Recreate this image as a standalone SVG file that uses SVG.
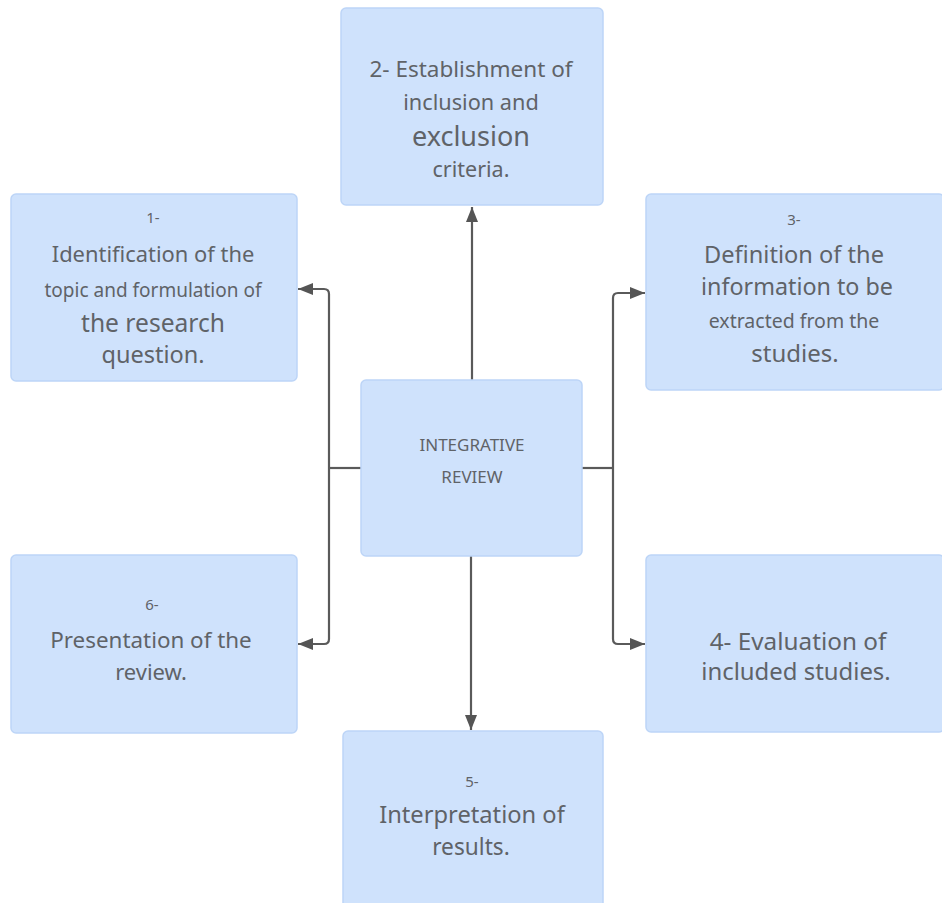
<svg xmlns="http://www.w3.org/2000/svg" width="942" height="903" viewBox="0 0 942 903">
  <style>
    .box { fill: #cfe2fc; stroke: #bdd5f7; stroke-width: 1.5; }
    .t { font-family: "Noto Sans", "Open Sans", sans-serif; fill: #5f6368; text-anchor: middle; }
    .conn { fill: none; stroke: #5a5a5a; stroke-width: 2.2; }
  </style>
  <defs>
    <marker id="arrow" markerUnits="userSpaceOnUse" markerWidth="16" markerHeight="12" refX="15" refY="6" orient="auto">
      <path d="M0,0 L15,6 L0,12 Z" fill="#555555"/>
    </marker>
  </defs>
  <rect width="942" height="903" fill="#ffffff"/>

  <!-- connectors -->
  <g id="connectors">
    <path class="conn" d="M472,380 V207" marker-end="url(#arrow)"/>
    <path class="conn" d="M471,556 V730" marker-end="url(#arrow)"/>
    <path class="conn" d="M361,468 H329"/>
    <path class="conn" d="M329,468 V294 Q329,289 324,289 H298" marker-end="url(#arrow)"/>
    <path class="conn" d="M329,468 V639 Q329,644 324,644 H298" marker-end="url(#arrow)"/>
    <path class="conn" d="M582,468 H613"/>
    <path class="conn" d="M613,468 V298 Q613,293 618,293 H645" marker-end="url(#arrow)"/>
    <path class="conn" d="M613,468 V639 Q613,644 618,644 H645" marker-end="url(#arrow)"/>
  </g>

  <!-- centre node -->
  <g id="node-center">
    <rect class="box" x="361" y="380" width="221" height="176" rx="5"/>
    <text class="t" x="472" y="451" font-size="17">INTEGRATIVE</text>
    <text class="t" x="472" y="483" font-size="17">REVIEW</text>
  </g>

  <!-- step 1 -->
  <g id="node-1">
    <rect class="box" x="11" y="194" width="286" height="187" rx="5"/>
    <text class="t" x="153" y="223" font-size="15">1-</text>
    <text class="t" x="153" y="262" font-size="21.9">Identification of the</text>
    <text class="t" x="153" y="297" font-size="19">topic and formulation of</text>
    <text class="t" x="153" y="332" font-size="24.6">the research</text>
    <text class="t" x="153" y="363" font-size="23.5">question.</text>
  </g>

  <!-- step 2 -->
  <g id="node-2">
    <rect class="box" x="341" y="8" width="262" height="197" rx="5"/>
    <text class="t" x="471" y="77" font-size="22.5">2- Establishment of</text>
    <text class="t" x="471" y="110" font-size="21.7">inclusion and</text>
    <text class="t" x="471" y="146" font-size="27">exclusion</text>
    <text class="t" x="471" y="177" font-size="21.5">criteria.</text>
  </g>

  <!-- step 3 -->
  <g id="node-3">
    <rect class="box" x="646" y="194" width="298" height="196" rx="5"/>
    <text class="t" x="794" y="225" font-size="15">3-</text>
    <text class="t" x="794" y="263" font-size="23.6">Definition of the</text>
    <text class="t" x="797" y="295" font-size="23.3">information to be</text>
    <text class="t" x="794" y="328" font-size="19.5">extracted from the</text>
    <text class="t" x="795" y="362" font-size="24">studies.</text>
  </g>

  <!-- step 4 -->
  <g id="node-4">
    <rect class="box" x="646" y="555" width="298" height="177" rx="5"/>
    <text class="t" x="798" y="650" font-size="24.3">4- Evaluation of</text>
    <text class="t" x="796" y="680" font-size="23.9">included studies.</text>
  </g>

  <!-- step 5 -->
  <g id="node-5">
    <rect class="box" x="343" y="731" width="260" height="180" rx="5"/>
    <text class="t" x="472" y="787" font-size="15">5-</text>
    <text class="t" x="472" y="823" font-size="23.7">Interpretation of</text>
    <text class="t" x="471" y="855" font-size="22.7">results.</text>
  </g>

  <!-- step 6 -->
  <g id="node-6">
    <rect class="box" x="11" y="555" width="286" height="178" rx="5"/>
    <text class="t" x="152" y="610" font-size="15">6-</text>
    <text class="t" x="151" y="648" font-size="22.4">Presentation of the</text>
    <text class="t" x="151" y="680" font-size="22">review.</text>
  </g>
</svg>
